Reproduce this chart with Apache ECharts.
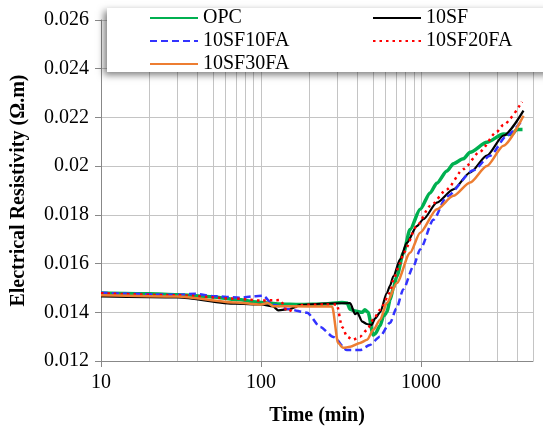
<!DOCTYPE html>
<html>
<head>
<meta charset="utf-8">
<script src="https://cdn.jsdelivr.net/npm/echarts@6/dist/echarts.min.js"></script>
<style>
  html, body { margin: 0; padding: 0; background: #fff; }
  #chart { width: 543px; height: 430px; }
</style>
</head>
<body>
<div id="chart"></div>
<script>
// [time (min), resistivity (Ω.m)]
const opc = [
  [10, 0.01479], [20, 0.01476], [30, 0.01472], [50, 0.01463], [70, 0.01452],
  [100, 0.0144], [130, 0.01434], [175, 0.01432], [250, 0.01434], [320, 0.0144],
  [345, 0.01438], [360, 0.01412], [387, 0.01405], [428, 0.014], [445, 0.0141],
  [466, 0.014], [502, 0.01307], [516, 0.01312], [554, 0.01345], [581, 0.01383],
  [611, 0.014], [640, 0.01452], [671, 0.015], [705, 0.01548], [775, 0.01644],
  [853, 0.0174], [986, 0.01823], [1138, 0.0189], [1253, 0.0193], [1449, 0.0198],
  [1591, 0.0201], [1830, 0.0203], [2024, 0.02057], [2574, 0.02098], [3268, 0.02132],
  [3690, 0.0213], [3963, 0.0215], [4300, 0.0215]
];
const sf10 = [
  [10, 0.01465], [30, 0.01461], [69, 0.01435], [100, 0.01432], [119, 0.01424],
  [128, 0.01408], [152, 0.01414], [175, 0.0143], [250, 0.01436], [360, 0.01438],
  [387, 0.01392], [400, 0.01398], [428, 0.01362], [458, 0.01352], [491, 0.01348],
  [516, 0.01375], [554, 0.014], [611, 0.01479], [640, 0.0151], [671, 0.01548],
  [739, 0.01617], [814, 0.01685], [940, 0.01754], [1033, 0.01782], [1253, 0.0185],
  [1591, 0.01905], [2024, 0.01974], [2574, 0.02043], [3268, 0.02125], [4360, 0.02228]
];
const sf10fa10 = [
  [10, 0.0148], [30, 0.01472], [39, 0.01476], [50, 0.01466], [74, 0.0146],
  [90, 0.01466], [103, 0.01468], [119, 0.01431], [150, 0.01412], [194, 0.01398],
  [234, 0.0134], [283, 0.01299], [344, 0.01245], [415, 0.01245], [479, 0.01266],
  [552, 0.013], [640, 0.01357], [700, 0.01415], [775, 0.01495], [895, 0.01589],
  [986, 0.01658], [1194, 0.0178], [1449, 0.01877], [2124, 0.01983], [2699, 0.02043],
  [3433, 0.02125], [4259, 0.02187]
];
const sf10fa20 = [
  [10, 0.01478], [30, 0.0147], [69, 0.01456], [100, 0.01448], [131, 0.0145],
  [147, 0.01403], [175, 0.0143], [250, 0.01432], [297, 0.01432], [321, 0.0134],
  [345, 0.013], [374, 0.01287], [415, 0.013], [460, 0.01328], [502, 0.0137],
  [554, 0.0141], [640, 0.0148], [671, 0.01534], [739, 0.016], [775, 0.01644],
  [940, 0.01754], [1138, 0.01836], [1449, 0.01905], [1836, 0.01988], [2334, 0.0206],
  [2958, 0.0214], [3268, 0.0217], [4259, 0.02263]
];
const sf10fa30 = [
  [10, 0.0147], [30, 0.01465], [69, 0.0144], [100, 0.01432], [110, 0.01438],
  [119, 0.01425], [200, 0.01424], [278, 0.01424], [303, 0.01274], [325, 0.01254],
  [360, 0.01258], [415, 0.01274], [460, 0.01287], [503, 0.01328], [554, 0.01369],
  [611, 0.01438], [705, 0.0152], [853, 0.01644], [986, 0.01727], [1253, 0.01823],
  [1591, 0.01878], [2024, 0.01933], [2574, 0.02001], [3268, 0.02084], [4360, 0.02207]
];

const majorTicks = [10, 100, 1000];
const minorTicks = [20, 30, 40, 50, 60, 70, 80, 90, 200, 300, 400, 500, 600, 700, 800, 900, 2000, 3000, 4000, 5000];

const FONT = "'Liberation Serif', 'Times New Roman', serif";
const GRID = '#c4c4c4';
const AXIS = '#888888';

function line(name, data, color, width, type) {
  return {
    name: name,
    type: 'line',
    data: data,
    symbol: 'none',
    smooth: 0.25,
    smoothMonotone: 'x',
    lineStyle: { color: color, width: width, type: type || 'solid' },
    itemStyle: { color: color }
  };
}

const legendText = { fontFamily: FONT, fontSize: 20, color: '#000', lineHeight: 22 };

const chart = echarts.init(document.getElementById('chart'));
chart.setOption({
  animation: false,
  grid: { left: 101, right: 10, top: 20, bottom: 69, outerBoundsMode: 'none' },
  graphic: [{
    type: 'rect',
    left: 107, top: 8, z: 50,
    shape: { width: 450, height: 64 },
    style: {
      fill: '#fff',
      shadowBlur: 7, shadowColor: 'rgba(0,0,0,0.5)',
      shadowOffsetX: -3, shadowOffsetY: 3
    }
  }],
  legend: [{
    data: ['OPC', '10SF10FA', '10SF30FA'],
    orient: 'vertical', left: 144, top: 2, z: 60,
    itemWidth: 48, itemHeight: 14, itemGap: 1,
    itemStyle: { opacity: 0 },
    textStyle: legendText
  }, {
    data: ['10SF', '10SF20FA'],
    orient: 'vertical', left: 367, top: 2, z: 60,
    itemWidth: 48, itemHeight: 14, itemGap: 1,
    itemStyle: { opacity: 0 },
    textStyle: legendText
  }],
  xAxis: [{
    type: 'log', logBase: 10, min: 10, max: 5000,
    name: 'Time (min)', nameLocation: 'middle', nameGap: 45,
    nameTextStyle: { fontFamily: FONT, fontSize: 20, fontWeight: 'bold', color: '#000' },
    axisLine: { lineStyle: { color: AXIS } },
    axisTick: { length: 6, lineStyle: { color: AXIS }, customValues: majorTicks },
    axisLabel: {
      fontFamily: FONT, fontSize: 20, color: '#000', margin: 12,
      customValues: majorTicks,
      formatter: function (v) { return String(Math.round(v)); }
    },
    splitLine: { show: true, lineStyle: { color: GRID } }
  }, {
    type: 'log', logBase: 10, min: 10, max: 5000, position: 'top',
    axisLine: { show: false },
    axisTick: { show: false, customValues: minorTicks },
    axisLabel: { show: false },
    splitLine: { show: true, lineStyle: { color: GRID } }
  }],
  yAxis: {
    type: 'value', min: 0.012, max: 0.026, interval: 0.002,
    name: 'Electrical Resistivity (Ω.m)', nameLocation: 'middle', nameGap: 72,
    nameTextStyle: { fontFamily: FONT, fontSize: 20, fontWeight: 'bold', color: '#000' },
    axisLine: { show: true, lineStyle: { color: AXIS } },
    axisTick: { show: true, length: 6, lineStyle: { color: AXIS } },
    axisLabel: { fontFamily: FONT, fontSize: 20, color: '#000', margin: 12 },
    splitLine: { show: true, lineStyle: { color: GRID } }
  },
  series: [
    line('OPC', opc, '#00b050', 3.5),
    line('10SF', sf10, '#000000', 2.2),
    line('10SF10FA', sf10fa10, '#3333ff', 2.5, [7, 4]),
    line('10SF20FA', sf10fa20, '#ff0000', 2.5, [2.5, 4]),
    line('10SF30FA', sf10fa30, '#ed7d31', 2.5)
  ]
});
</script>
</body>
</html>
